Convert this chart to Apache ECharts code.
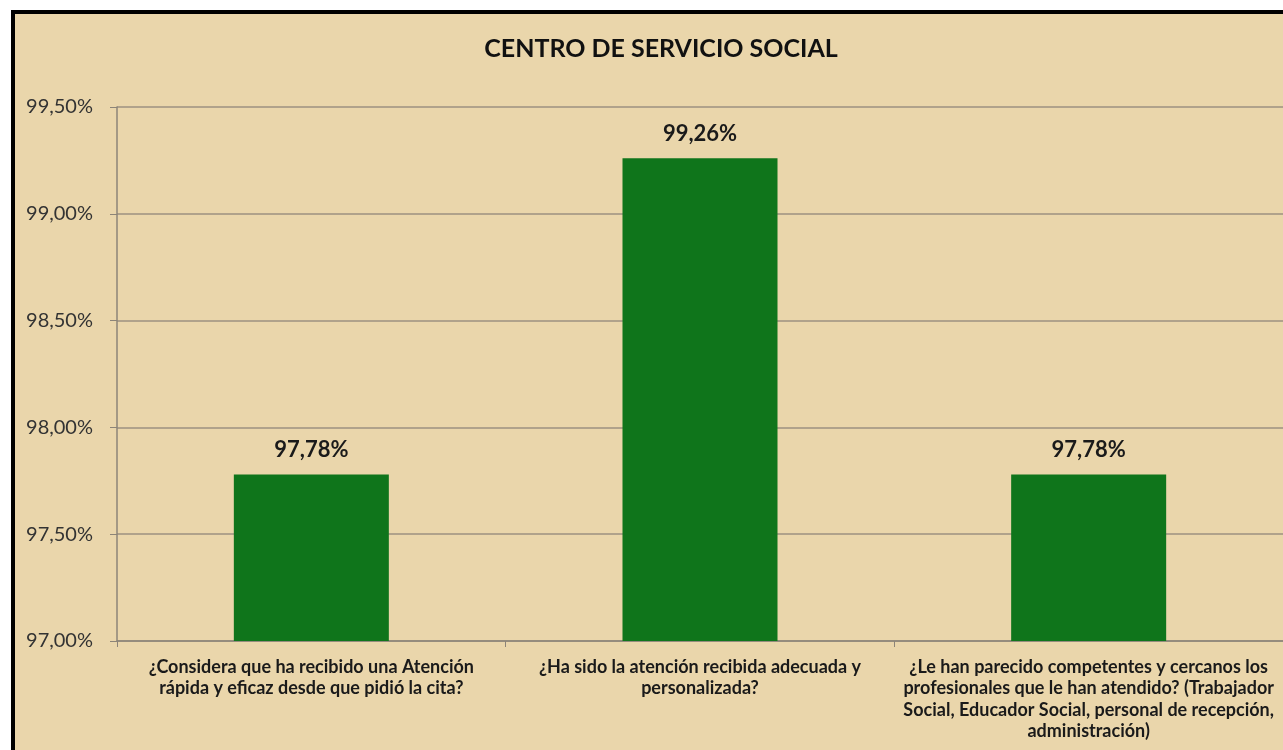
<!DOCTYPE html>
<html>
<head>
<meta charset="utf-8">
<script src="https://cdn.jsdelivr.net/npm/echarts@6/dist/echarts.min.js"></script>
<style>
  html, body { margin: 0; padding: 0; background: #ffffff; overflow: hidden; }
  #frame { position: absolute; left: 11px; top: 10px; width: 1400px; height: 800px;
           border-left: 4px solid #000; border-top: 4px solid #000; background: #EAD6AB; }
  #chart { position: absolute; left: 0; top: 0; width: 1283px; height: 750px; }
</style>
</head>
<body>
<div id="frame"></div>
<div id="chart"></div>
<script>
const titleText = 'CENTRO DE SERVICIO SOCIAL';
const categories = [
  '¿Considera que ha recibido una Atención\nrápida y eficaz desde que pidió la cita?',
  '¿Ha sido la atención recibida adecuada y\npersonalizada?',
  '¿Le han parecido competentes y cercanos los\nprofesionales que le han atendido? (Trabajador\nSocial, Educador Social, personal de recepción,\nadministración)'
];
const values = [97.78, 99.26, 97.78];
const yMin = 97.0, yMax = 99.5, yStep = 0.5;

const fmt = v => v.toFixed(2).replace('.', ',') + '%';
const chart = echarts.init(document.getElementById('chart'), null, { renderer: 'canvas' });
chart.setOption({
  backgroundColor: 'transparent',
  animation: false,
  title: {
    text: titleText, left: 656, top: 31, textAlign: 'center',
    textStyle: { fontFamily: 'Lato', fontWeight: 'bold', fontSize: 25, color: '#111' }
  },
  grid: { left: 117, top: 107, width: 1170, height: 534, containLabel: false },
  xAxis: {
    type: 'category', data: categories,
    axisLine: { lineStyle: { color: '#8C8478', width: 1.5 } },
    axisTick: { show: true, alignWithLabel: false, length: 6, lineStyle: { color: '#8C8478' } },
    axisLabel: { interval: 0, margin: 15, color: '#1a1a1a', fontFamily: 'Lato', fontWeight: 'bold',
                 fontSize: 18, lineHeight: 21.5, align: 'center' }
  },
  yAxis: {
    type: 'value', min: yMin, max: yMax, interval: yStep,
    axisLine: { show: true, lineStyle: { color: '#8C8478', width: 1.5 } },
    axisTick: { show: true, length: 7, lineStyle: { color: '#8C8478' } },
    splitLine: { lineStyle: { color: '#9C9080', width: 1.5 } },
    axisLabel: { formatter: fmt, color: '#333', fontFamily: 'Lato', fontSize: 20, margin: 24 }
  },
  series: [{
    type: 'bar', data: values, barWidth: 155,
    itemStyle: { color: '#0F751B' },
    label: { show: true, position: 'top', distance: 13, formatter: p => fmt(p.value),
             color: '#1a1a1a', fontFamily: 'Lato', fontWeight: 'bold', fontSize: 22 }
  }]
});
</script>
</body>
</html>
